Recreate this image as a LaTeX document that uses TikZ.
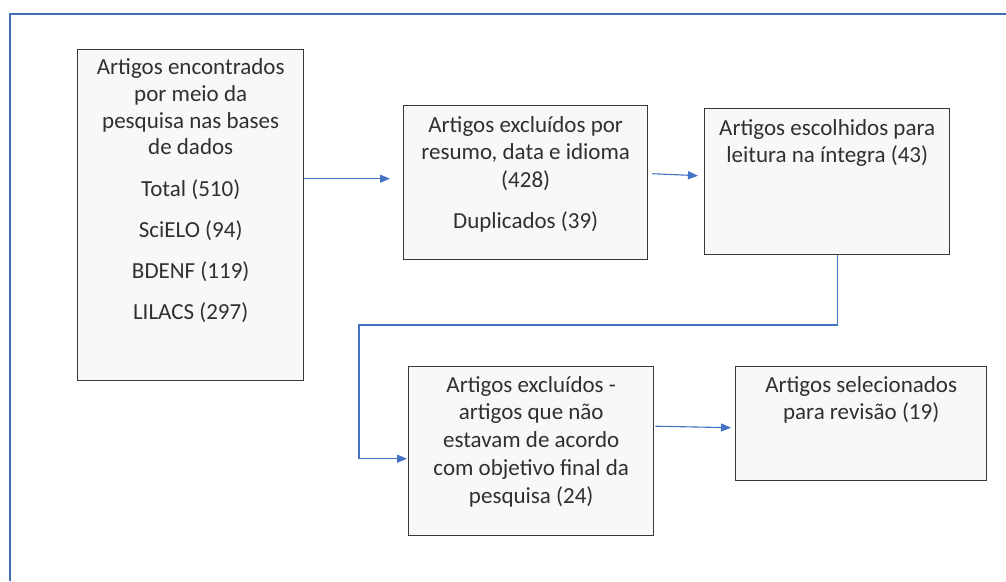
\documentclass[tikz,border=0pt]{standalone}
\usepackage{fontspec}
\setmainfont{Carlito}
\usetikzlibrary{arrows.meta,calc}
\definecolor{framecol}{RGB}{68,108,180}
\definecolor{conncol}{RGB}{68,114,196}
\definecolor{boxfill}{RGB}{248,248,248}
\definecolor{boxline}{RGB}{56,56,56}
\definecolor{txtcol}{RGB}{48,48,48}
\begin{document}
\begin{tikzpicture}[x=1pt,y=-1pt,
  box/.style={draw=boxline, line width=1.4pt, fill=boxfill, rectangle, inner sep=0pt, anchor=north west},
  txt/.style={anchor=north, inner sep=0pt, align=center, text=txtcol, font=\fontsize{23}{27.8}\selectfont},
  conn/.style={draw=conncol, line width=1.1pt, -{Triangle[length=10pt,width=8pt]}}]
\useasboundingbox (0,0) rectangle (1006,581);
\fill[white] (0,0) rectangle (1006,581);
% outer frame
\draw[framecol, line width=1.2pt] (10,581) -- (10,14) -- (1006,14);
% boxes
\node[box, minimum width=226pt, minimum height=331pt] (b1) at (77,49) {};
\node[box, minimum width=244pt, minimum height=154pt] (b2) at (403,105) {};
\node[box, minimum width=245pt, minimum height=146pt] (b3) at (704,108) {};
\node[box, minimum width=245pt, minimum height=169pt] (b4) at (408,366) {};
\node[box, minimum width=251pt, minimum height=114pt] (b5) at (735,366) {};
% texts
\node[txt, font=\fontsize{23}{26.7}\selectfont] (t1) at ($(b1.north)+(0,9.5)$)
  {Artigos encontrados\\por meio da\\pesquisa nas bases\\de dados\\[14.6pt]Total (510)\\[14.6pt]SciELO (94)\\[14.6pt]BDENF (119)\\[14.6pt]LILACS (297)};
\node[txt] (t2) at ($(b2.north)+(0,11)$)
  {Artigos excluídos por\\resumo, data e idioma\\(428)\\[12.5pt]Duplicados (39)};
\node[txt] (t3) at ($(b3.north)+(0,11)$)
  {Artigos escolhidos para\\leitura na íntegra (43)};
\node[txt] (t4) at ($(b4.north)+(0,10)$)
  {Artigos excluídos -\\artigos que não\\estavam de acordo\\com objetivo final da\\pesquisa (24)};
\node[txt] (t5) at ($(b5.north)+(0,10)$)
  {Artigos selecionados\\para revisão (19)};
% connectors
\coordinate (e1) at ($(b2.west)+(-13,-4)$);
\draw[conn] (b1.east |- e1) -- (e1);
\draw[conn] ($(b2.east)+(4,-9)$) -- ($(b3.west)+(-6,-6)$);
\coordinate (bend) at (359,325);
\draw[conn] ($(b3.south)+(10.5,0)$) |- (bend) |- ($(b4.west)+(-1,7.5)$);
\draw[conn] ($(b4.east)+(1,-25)$) -- ($(b5.west)+(-4,4)$);
\end{tikzpicture}
\end{document}
